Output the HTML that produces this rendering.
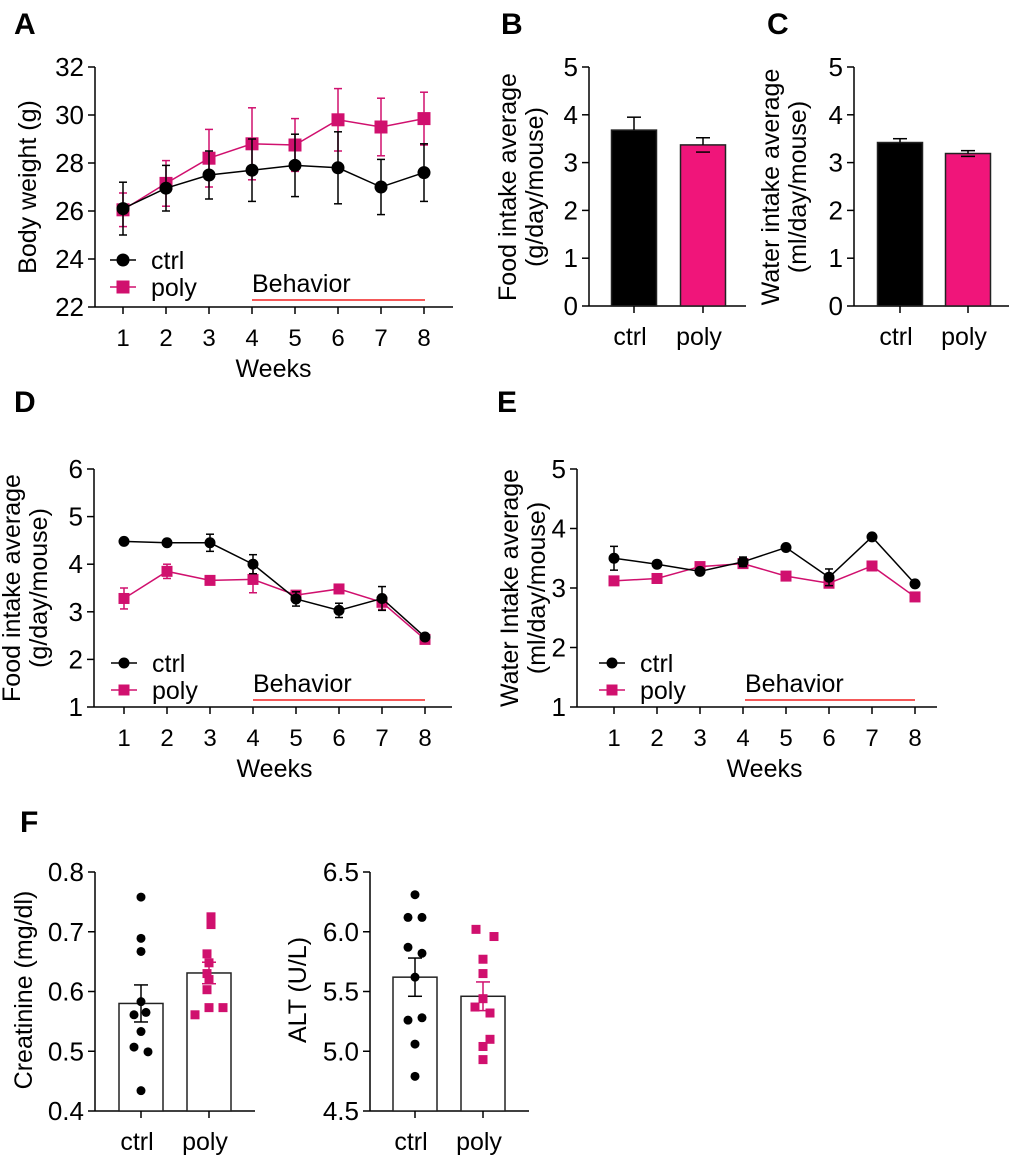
<!DOCTYPE html>
<html><head><meta charset="utf-8"><style>
body{margin:0;background:#fff;}
svg{display:block;font-family:"Liberation Sans",Arial,sans-serif;}
</style></head><body>
<svg id="fig" width="1020" height="1158" viewBox="0 0 1020 1158" xmlns="http://www.w3.org/2000/svg">
<g font-weight="bold" font-size="30" fill="#000">
<text x="14" y="34">A</text>
<text x="501" y="34">B</text>
<text x="767" y="34">C</text>
<text x="14" y="412">D</text>
<text x="497" y="412">E</text>
<text x="20" y="832">F</text>
</g>
</svg>
<script>
// ---- data ----
const weeks=[1,2,3,4,5,6,7,8];
const aTicks=[22,24,26,28,30,32];
const aCtrl=[26.1,26.95,27.5,27.7,27.9,27.8,27.0,27.6];
const aCtrlErr=[1.1,0.95,1.0,1.3,1.3,1.5,1.15,1.2];
const aPoly=[26.05,27.15,28.2,28.8,28.75,29.8,29.5,29.85];
const aPolyErr=[0.7,0.95,1.2,1.5,1.1,1.3,1.2,1.1];
const dTicks=[1,2,3,4,5,6];
const dCtrl=[4.48,4.45,4.45,4.0,3.27,3.03,3.28,2.47];
const dCtrlErr=[0.03,0.03,0.18,0.2,0.15,0.15,0.25,0.05];
const dPoly=[3.28,3.85,3.66,3.68,3.35,3.48,3.2,2.42];
const dPolyErr=[0.22,0.15,0.05,0.28,0.05,0.05,0.15,0.05];
const eTicks=[1,2,3,4,5];
const eCtrl=[3.5,3.4,3.28,3.44,3.68,3.18,3.86,3.07];
const eCtrlErr=[0.2,0.04,0.05,0.08,0.03,0.14,0.03,0.04];
const ePoly=[3.12,3.16,3.36,3.41,3.2,3.08,3.37,2.85];
const ePolyErr=[0.04,0.04,0.06,0.04,0.03,0.05,0.06,0.05];
const groups=["ctrl","poly"];
const bTicks=[0,1,2,3,4,5];
const bMeans=[3.68,3.37];
const bErr=[0.27,0.15];
const cMeans=[3.42,3.19];
const cErr=[0.08,0.06];
const creatTicks=[0.4,0.5,0.6,0.7,0.8];
const creatCtrl=[0.758,0.689,0.667,0.583,0.565,0.561,0.533,0.507,0.499,0.434];
const creatPoly=[0.725,0.712,0.663,0.648,0.630,0.620,0.603,0.573,0.573,0.561];
const creatMeans=[0.58,0.631];
const creatErr=[0.031,0.018];
const altTicks=[4.5,5.0,5.5,6.0,6.5];
const altCtrl=[6.31,6.12,6.12,5.87,5.82,5.62,5.28,5.26,5.06,4.79];
const altPoly=[6.02,5.96,5.77,5.65,5.44,5.37,5.32,5.10,5.04,4.93];
const altMeans=[5.62,5.46];
const altErr=[0.16,0.12];

const NS="http://www.w3.org/2000/svg";
const svg=document.getElementById('fig');
function el(tag,attrs,parent,text){const e=document.createElementNS(NS,tag);for(const k in attrs)e.setAttribute(k,attrs[k]);if(text!==undefined)e.textContent=text;(parent||svg).appendChild(e);return e;}
function lin(d0,d1,r0,r1){return v=>r0+(v-d0)/(d1-d0)*(r1-r0);}

function yAxis(g,x,y,ticks,fmt,fs){
  const a=el('line',{x1:x,x2:x,y1:y(ticks[ticks.length-1]),y2:y(ticks[0]),stroke:'#000','stroke-width':1.5},g);
  
  
  ticks.forEach(t=>{
    el('line',{x1:x-7,x2:x,y1:y(t),y2:y(t),stroke:'#000','stroke-width':1.5},g);
    const tx=el('text',{x:x-11,y:y(t)+9,'text-anchor':'end','font-size':fs||26},g,fmt?fmt(t):t);
    
    
  });
}
function yTitle(g,cx,cy,lines,fs){
  lines.forEach((l,i)=>{
    const t=el('text',{x:0,y:0,'text-anchor':'middle','font-size':fs||25,transform:`translate(${cx+i*27},${cy}) rotate(-90)`},g,l);
    
    
  });
}

function linePanel(o){
  const g=el('g',{},svg);
  
  
  const t=o.ticks;
  const y=lin(t[0],t[t.length-1],o.y0,o.y1);
  const x=lin(1,8,o.xw1,o.xw8);
  yAxis(g,o.ax,y,t,null,26);
  el('line',{x1:o.ax,x2:o.axEnd,y1:o.y0,y2:o.y0,stroke:'#000','stroke-width':1.5},g);
  weeks.forEach(w=>{
    el('line',{x1:x(w),x2:x(w),y1:o.y0,y2:o.y0+7,stroke:'#000','stroke-width':1.5},g);
    const l=el('text',{x:x(w),y:o.y0+39,'text-anchor':'middle','font-size':24},g,w);
    
    
  });
  const xt=el('text',{x:(x(1)+x(8))/2,y:o.y0+70,'text-anchor':'middle','font-size':25},g,'Weeks');
  
  
  yTitle(g,o.tx,o.ty,o.title,25);
  const series=[[o.poly,o.polyErr,o.pink,'sq','poly'],[o.ctrl,o.ctrlErr,'#000','ci','ctrl']];
  series.forEach(([v,e,c,m,nm])=>{
    const pts=v.map((d,i)=>x(weeks[i])+','+y(d)).join(' ');
    const pl=el('polyline',{points:pts,fill:'none',stroke:c,'stroke-width':1.5},g);
    
    
    v.forEach((d,i)=>{
      const cx=x(weeks[i]);
      el('line',{x1:cx,x2:cx,y1:y(d-e[i]),y2:y(d+e[i]),stroke:c,'stroke-width':1.5},g);
      el('line',{x1:cx-4,x2:cx+4,y1:y(d-e[i]),y2:y(d-e[i]),stroke:c,'stroke-width':1.5},g);
      el('line',{x1:cx-4,x2:cx+4,y1:y(d+e[i]),y2:y(d+e[i]),stroke:c,'stroke-width':1.5},g);
      let mk;
      if(m==='ci') mk=el('circle',{cx:cx,cy:y(d),r:o.ms/2,fill:c},g);
      else mk=el('rect',{x:cx-o.ms/2,y:y(d)-o.ms/2,width:o.ms,height:o.ms,fill:c},g);
      
      
    });
  });
  const L=[['ctrl','#000','ci',o.legY],['poly',o.pink,'sq',o.legY+27]];
  L.forEach(([nm,c,m,ly])=>{
    const lg=el('g',{},g);
    
    
    el('line',{x1:o.legX-13,x2:o.legX+13,y1:ly,y2:ly,stroke:c,'stroke-width':1.5},lg);
    if(m==='ci') el('circle',{cx:o.legX,cy:ly,r:o.ms/2,fill:c},lg);
    else el('rect',{x:o.legX-o.ms/2,y:ly-o.ms/2,width:o.ms,height:o.ms,fill:c},lg);
    el('text',{x:o.legX+28,y:ly+9,'font-size':25},lg,nm);
  });
  const bh=el('text',{x:o.bx1,y:o.by-8,'font-size':25},g,'Behavior');
  
  
  const bl=el('line',{x1:o.bx1,x2:o.bx2,y1:o.by,y2:o.by,stroke:'#f02020','stroke-width':1.6},g);
  
  
}

linePanel({name:'panel-a-body-weight',ticks:aTicks,y0:307,y1:67,ax:95,axEnd:453,xw1:123,xw8:424,
  ctrl:aCtrl,ctrlErr:aCtrlErr,poly:aPoly,polyErr:aPolyErr,pink:'#d0106e',ms:13,
  tx:36,ty:187,title:['Body weight (g)'],legX:123,legY:260,bx1:252,bx2:425,by:300});
linePanel({name:'panel-d-food-intake-weekly',ticks:dTicks,y0:707,y1:469,ax:94,axEnd:452,xw1:124,xw8:425,
  ctrl:dCtrl,ctrlErr:dCtrlErr,poly:dPoly,polyErr:dPolyErr,pink:'#d0106e',ms:11,
  tx:20,ty:588,title:['Food intake average','(g/day/mouse)'],legX:124,legY:663,bx1:253,bx2:425,by:700});
linePanel({name:'panel-e-water-intake-weekly',ticks:eTicks,y0:707,y1:469,ax:577,axEnd:937,xw1:614,xw8:915,
  ctrl:eCtrl,ctrlErr:eCtrlErr,poly:ePoly,polyErr:ePolyErr,pink:'#d0106e',ms:11,
  tx:518,ty:588,title:['Water Intake average','(ml/day/mouse)'],legX:612,legY:663,bx1:745,bx2:915,by:700});

function barPanel(o){
  const g=el('g',{},svg);
  
  
  const t=o.ticks;
  const y=lin(t[0],t[t.length-1],o.y0,o.y1);
  yAxis(g,o.ax,y,t,o.fmt,26);
  el('line',{x1:o.ax,x2:o.axEnd,y1:o.y0,y2:o.y0,stroke:'#000','stroke-width':1.5},g);
  yTitle(g,o.tx,o.ty,o.title,25);
  groups.forEach((gr,i)=>{
    const cx=o.cx[i];
    const bar=el('rect',{x:cx-o.bw/2,y:y(o.means[i]),width:o.bw,height:o.y0-y(o.means[i]),fill:o.fills[i],stroke:'#222','stroke-width':1.5},g);
    
    
    el('line',{x1:cx,x2:cx,y1:o.y0,y2:o.y0+7,stroke:'#000','stroke-width':1.5},g);
    const lb=el('text',{x:cx-4,y:o.y0+39,'text-anchor':'middle','font-size':25},g,gr);
    
    
    if(o.points){
      const pc=i===0?'#000':'#d0106e';
      o.points[i].forEach((v,j)=>{
        const px=cx+o.jit[i][j];
        let mk;
        if(i===0) mk=el('circle',{cx:px,cy:y(v),r:4.5,fill:pc},g);
        else mk=el('rect',{x:px-4.5,y:y(v)-4.5,width:9,height:9,fill:pc},g);
        
        
      });
    }
    const ec=o.points?(i===0?'#000':'#d0106e'):'#000';
    const lo=o.points?o.means[i]-o.err[i]:o.means[i];
    el('line',{x1:cx,x2:cx,y1:y(lo),y2:y(o.means[i]+o.err[i]),stroke:ec,'stroke-width':1.5},g);
    el('line',{x1:cx-7,x2:cx+7,y1:y(o.means[i]+o.err[i]),y2:y(o.means[i]+o.err[i]),stroke:ec,'stroke-width':1.5},g);
    el('line',{x1:cx-7,x2:cx+7,y1:y(o.means[i]-o.err[i]),y2:y(o.means[i]-o.err[i]),stroke:ec,'stroke-width':1.5},g);
  });
}
barPanel({name:'panel-b-food-intake',ticks:bTicks,y0:306,y1:67,ax:589,axEnd:746,cx:[634,703],bw:45,
  means:bMeans,err:bErr,fills:['#000','#f0157a'],tx:516,ty:187,title:['Food intake average','(g/day/mouse)']});
barPanel({name:'panel-c-water-intake',ticks:bTicks,y0:306,y1:67,ax:854,axEnd:1009,cx:[900,968],bw:45,
  means:cMeans,err:cErr,fills:['#000','#f0157a'],tx:779,ty:187,title:['Water intake average','(ml/day/mouse)']});
const jitA=[[0,0,0,0,5,-7,0,-7,7,0],[2,2,-2,0,-2,0,-2,0,14,-14]];
const jitB=[[0,-7,7,-7,7,0,7,-7,0,0],[-7,11,0,0,-0,-8,7,7,0,0]];
barPanel({name:'panel-f-creatinine',ticks:creatTicks,y0:1111,y1:872,ax:95,axEnd:255,cx:[141,209],bw:44,
  means:creatMeans,err:creatErr,fills:['#fff','#fff'],tx:32,ty:990,title:['Creatinine (mg/dl)'],
  fmt:v=>v.toFixed(1),points:[creatCtrl,creatPoly],jit:jitA});
barPanel({name:'panel-f-alt',ticks:altTicks,y0:1111,y1:872,ax:370,axEnd:529,cx:[415,483],bw:44,
  means:altMeans,err:altErr,fills:['#fff','#fff'],tx:306,ty:990,title:['ALT (U/L)'],
  fmt:v=>v.toFixed(1),points:[altCtrl,altPoly],jit:jitB});
</script>
</body></html>
